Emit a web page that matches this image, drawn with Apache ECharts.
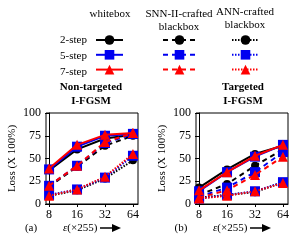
<!DOCTYPE html>
<html><head><meta charset="utf-8">
<script src="https://cdn.jsdelivr.net/npm/echarts@6/dist/echarts.min.js"></script>
<style>html,body{margin:0;padding:0;background:#fff}#c{width:300px;height:250px}</style>
</head><body><div id="c"></div>
<script>
const xTicks = ['8', '16', '32', '64'];
const stepLabels = ['2-step', '5-step', '7-step'];
const colHeaders = [['whitebox'], ['SNN-II-crafted', 'blackbox'], ['ANN-crafted', 'blackbox']];
const panelTitles = [['Non-targeted', 'I-FGSM'], ['Targeted', 'I-FGSM']];
const yTicks = [0, 25, 50, 75, 100];

// Non-targeted I-FGSM
const nt_wb2 = [37, 60, 72, 76];
const nt_wb5 = [38, 63, 75, 77];
const nt_wb7 = [39, 65, 76, 78];
const nt_snn2 = [19, 41, 64, 75];
const nt_snn5 = [20, 42, 67, 77];
const nt_snn7 = [20, 42, 68, 78];
const nt_ann2 = [9, 15, 28, 48];
const nt_ann5 = [10, 16, 29, 53];
const nt_ann7 = [9, 16, 30, 55];
// Targeted I-FGSM
const t_wb2 = [18, 38, 55, 64];
const t_wb5 = [14, 35, 52, 65];
const t_wb7 = [15, 35, 53, 65];
const t_snn2 = [10, 22, 42, 60];
const t_snn5 = [8, 18, 35, 57];
const t_snn7 = [7, 15, 32, 52];
const t_ann2 = [7, 10, 13, 24];
const t_ann5 = [6, 10, 14, 24];
const t_ann7 = [6, 9, 14, 23];

const FONT = 'Liberation Serif';
const colors = ['#000000', '#0000f0', '#ff0000'];
const symbols = ['circle', 'rect', 'triangle'];
const symSizes = [8, 10, 10];
const kinds = [
  {key: 'wb', type: 'solid'},
  {key: 'snn', type: [5, 4]},
  {key: 'ann', type: [1.5, 1.5]}
];
const panels = [
  {wb: [nt_wb2, nt_wb5, nt_wb7], snn: [nt_snn2, nt_snn5, nt_snn7], ann: [nt_ann2, nt_ann5, nt_ann7]},
  {wb: [t_wb2, t_wb5, t_wb7], snn: [t_snn2, t_snn5, t_snn7], ann: [t_ann2, t_ann5, t_ann7]}
];

const series = [];
panels.forEach((p, pi) => {
  kinds.forEach(k => {
    [0, 1, 2].forEach(si => {
      series.push({
        name: k.key + si,
        type: 'line',
        xAxisIndex: pi, yAxisIndex: pi,
        data: p[k.key][si].map((v, i) => [i, v]),
        symbol: symbols[si], symbolSize: symSizes[si],
        itemStyle: {color: colors[si]},
        lineStyle: {color: colors[si], width: 2, type: k.type},
        animation: false, z: 2 + si
      });
    });
  });
});

const grids = [
  {left: 46, right: 162, top: 113, bottom: 46, show: true, borderColor: '#000', borderWidth: 1},
  {left: 196, right: 12, top: 113, bottom: 46, show: true, borderColor: '#000', borderWidth: 1}
];
const xAxes = grids.map((g, i) => ({
  type: 'value', gridIndex: i, min: -0.11, max: 3.18,
  axisLine: {show: true, lineStyle: {color: '#000'}},
  axisTick: {show: true, inside: false, length: 3, customValues: [0, 1, 2, 3], lineStyle: {color: '#000'}},
  axisLabel: {customValues: [0, 1, 2, 3], formatter: v => xTicks[Math.round(v)], color: '#000', fontFamily: FONT, fontSize: 12, margin: 5},
  splitLine: {show: false}
}));
const yAxes = grids.map((g, i) => ({
  type: 'value', gridIndex: i, min: 0, max: 100, interval: 25,
  name: 'Loss (X 100%)', nameLocation: 'middle', nameGap: 28, nameRotate: 90,
  nameTextStyle: {fontFamily: FONT, fontSize: 11, color: '#000'},
  axisLine: {show: true, lineStyle: {color: '#000'}},
  axisTick: {show: true, length: 4, lineStyle: {color: '#000'}},
  axisLabel: {color: '#000', fontFamily: FONT, fontSize: 12, margin: 5, formatter: v => yTicks.includes(v) ? String(v) : ''},
  splitLine: {show: false}
}));

const legendLefts = [95, 162, 231];
const legendWidths = [27, 33, 27];
const legends = kinds.map((k, ki) => ({
  orient: 'vertical', left: legendLefts[ki], top: 34, padding: 0,
  itemWidth: legendWidths[ki], itemHeight: 12, itemGap: 4,
  data: [0, 1, 2].map(si => k.key + si),
  formatter: () => '', textStyle: {fontSize: 1}, selectedMode: false
}));

const graphics = [];
const headerX = [110, 179, 245];
colHeaders.forEach((h, i) => {
  h.forEach((t, j) => {
    graphics.push({type: 'text', x: headerX[i], y: (i === 2 ? 12 : 14) + j * 13,
      style: {text: t, fill: '#000', font: '11px "' + FONT + '"', textAlign: 'center', textVerticalAlign: 'middle'}});
  });
});
stepLabels.forEach((t, i) => {
  graphics.push({type: 'text', x: 87, y: 40 + i * 16,
    style: {text: t, fill: '#000', font: '11px "' + FONT + '"', textAlign: 'right', textVerticalAlign: 'middle'}});
});
const titleX = [91, 243];
panelTitles.forEach((pt, i) => {
  pt.forEach((t, j) => {
    graphics.push({type: 'text', x: titleX[i], y: 87 + j * 14,
      style: {text: t, fill: '#000', font: 'bold 11px "' + FONT + '"', textAlign: 'center', textVerticalAlign: 'middle'}});
  });
});
const subX = [[31, 63], [181, 213]];
['(a)', '(b)'].forEach((t, i) => {
  graphics.push({type: 'text', x: subX[i][0], y: 228,
    style: {text: t, fill: '#000', font: '11px "' + FONT + '"', textAlign: 'center', textVerticalAlign: 'middle'}});
  graphics.push({type: 'text', x: subX[i][1], y: 228,
    style: {text: '{e|ε}(×255)', rich: {e: {fontStyle: 'italic', fontFamily: FONT, fontSize: 11}}, fill: '#000', font: '11px "' + FONT + '"', textAlign: 'left', textVerticalAlign: 'middle'}});
  const ax = subX[i][1] + 37;
  graphics.push({type: 'line', shape: {x1: ax, y1: 228, x2: ax + 14, y2: 228}, style: {stroke: '#000', lineWidth: 1.5}});
  graphics.push({type: 'polygon', shape: {points: [[ax + 12, 224], [ax + 21, 228], [ax + 12, 232]]}, style: {fill: '#000'}});
});

const chart = echarts.init(document.getElementById('c'), null, {renderer: 'canvas'});
chart.setOption({
  animation: false,
  backgroundColor: '#fff',
  grid: grids, xAxis: xAxes, yAxis: yAxes,
  legend: legends,
  series: series,
  graphic: graphics
});
</script></body></html>
